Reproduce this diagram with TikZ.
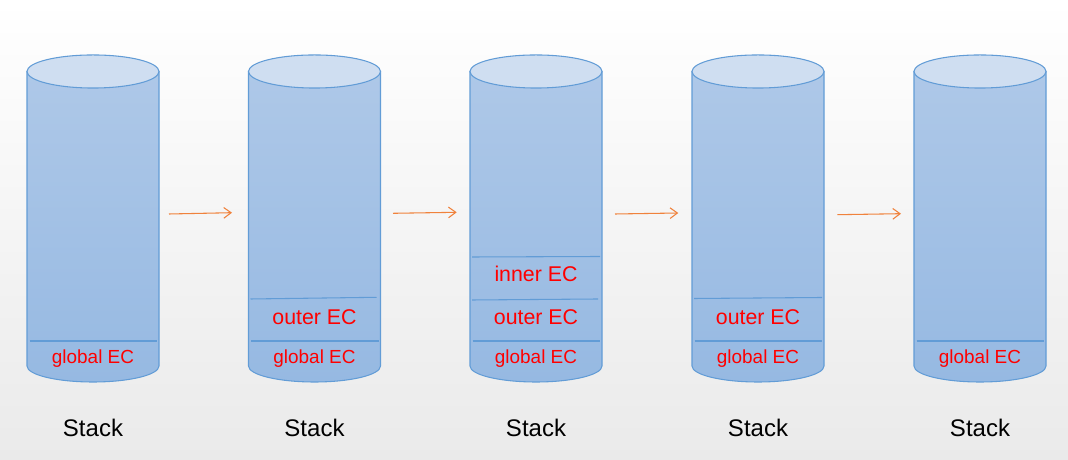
\documentclass[tikz,border=0pt]{standalone}
\usepackage{fontspec}
\setmainfont{Liberation Sans}
\usetikzlibrary{arrows.meta}
\definecolor{bgbot}{RGB}{234,234,234}
\definecolor{captop}{RGB}{207,222,241}
\definecolor{bodytop}{RGB}{174,200,232}
\definecolor{bodybot}{RGB}{150,185,226}
\definecolor{cylborder}{RGB}{98,156,214}
\definecolor{arrowc}{RGB}{240,130,60}
\definecolor{ecred}{RGB}{255,0,0}
\begin{document}
\begin{tikzpicture}[x=0.75pt,y=0.75pt,
  cylbody/.style={draw=cylborder, line width=0.8pt, top color=bodytop, bottom color=bodybot},
  cylcap/.style={draw=cylborder, line width=0.8pt, fill=captop},
  sepline/.style={draw=cylborder, line width=0.8pt},
  lvlbig/.style={text=ecred, inner sep=0pt, font=\fontsize{16}{19}\selectfont},
  lvlsmall/.style={text=ecred, inner sep=0pt, font=\fontsize{14.2}{17}\selectfont},
  stacklbl/.style={inner sep=0pt, font=\fontsize{18}{21}\selectfont},
  flow/.style={draw=arrowc, line width=0.8pt, -{Straight Barb[length=5.5pt,width=8pt]}}]
\fill[top color=white, bottom color=bgbot] (0,0) rectangle (1068,460);
\useasboundingbox (0,0) rectangle (1068,460);

\foreach \i/\xl in {1/27,2/248.5,3/470,4/692,5/914} {
  \path[cylbody] (\xl,388.5) -- (\xl,94)
     arc[start angle=180,end angle=360,x radius=49.5pt,y radius=12pt]
     -- (\xl+132,388.5) -- cycle;
  \path[cylcap] (\xl+66,388.5) ellipse[x radius=49.5pt, y radius=12.4pt];
  \draw[sepline] (\xl+2.5,119) -- (\xl+130,119);
  \node[lvlsmall] (g\i) at (\xl+66,101.5) {global EC};
  \node[stacklbl] (s\i) at (\xl+66,32.5) {Stack};
}

% cylinder 2
\draw[sepline] (250.5,161) -- (376.5,162.7);
\node[lvlbig] (o2) at (314.5,142.7) {outer EC};
% cylinder 3
\draw[sepline] (472,160) -- (598,161);
\draw[sepline] (472,203) -- (600,203.5);
\node[lvlbig] (o3) at (536,142.7) {outer EC};
\node[lvlbig] (n3) at (536,186.3) {inner EC};
% cylinder 4
\draw[sepline] (694,161.5) -- (822,162.5);
\node[lvlbig] (o4) at (758,142.7) {outer EC};

% arrows
\coordinate (a1s) at (169,246);   \coordinate (a1e) at (232,247.3);
\coordinate (a2s) at (393,246.7); \coordinate (a2e) at (456.7,247.7);
\coordinate (a3s) at (615,246);   \coordinate (a3e) at (678.3,247);
\coordinate (a4s) at (837.3,245.3); \coordinate (a4e) at (901,246.3);
\draw[flow] (a1s) -- (a1e);
\draw[flow] (a2s) -- (a2e);
\draw[flow] (a3s) -- (a3e);
\draw[flow] (a4s) -- (a4e);
\end{tikzpicture}
\end{document}
